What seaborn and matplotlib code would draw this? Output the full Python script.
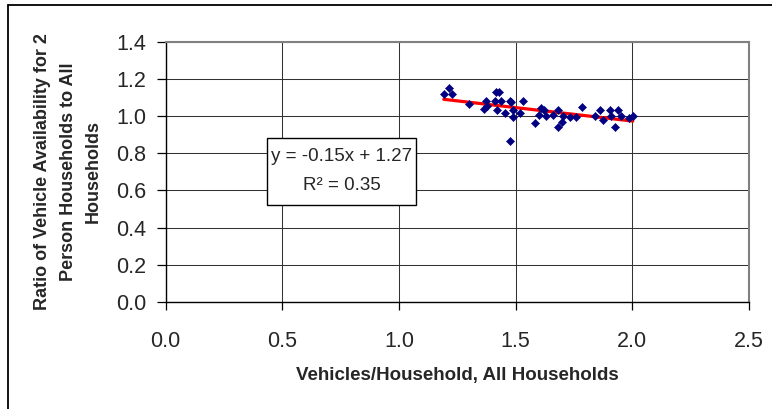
import numpy as np
import pandas as pd
import matplotlib
matplotlib.use("Agg")
import matplotlib.pyplot as plt
from matplotlib.lines import Line2D
from matplotlib.patches import Rectangle
import seaborn as sns

# ---- data ----
vehicles_per_household = [
    1.192, 1.214, 1.228, 1.302, 1.366, 1.371, 1.378, 1.415, 1.429, 1.413,
    1.437, 1.421, 1.455, 1.475, 1.478, 1.476, 1.488, 1.490, 1.518, 1.530,
    1.583, 1.600, 1.609, 1.622, 1.628, 1.662, 1.683, 1.683, 1.700, 1.703,
    1.731, 1.759, 1.786, 1.839, 1.862, 1.875, 1.903, 1.910, 1.925, 1.938,
    1.951, 1.985, 2.002,
]
ratio_2person = [
    1.118, 1.152, 1.118, 1.066, 1.039, 1.082, 1.054, 1.127, 1.127, 1.082,
    1.082, 1.032, 1.015, 1.082, 1.075, 0.868, 1.030, 0.996, 1.014, 1.082,
    0.961, 1.005, 1.041, 1.030, 0.998, 1.006, 1.032, 0.943, 0.970, 1.002,
    0.996, 0.994, 1.048, 0.997, 1.032, 0.978, 1.032, 1.002, 0.943, 1.032,
    1.000, 0.991, 1.000,
]
x_ticks = [0.0, 0.5, 1.0, 1.5, 2.0, 2.5]
y_ticks = [0.0, 0.2, 0.4, 0.6, 0.8, 1.0, 1.2, 1.4]
x_label = "Vehicles/Household, All Households"
y_label = "Ratio of Vehicle Availability for 2\nPerson Households to All\nHouseholds"
eq_text = "y = -0.15x + 1.27"
r2_text = "R² = 0.35"

df = pd.DataFrame({"x": vehicles_per_household, "y": ratio_2person})

sns.set_theme(style="white")
plt.rcParams["font.family"] = ["Liberation Sans", "DejaVu Sans"]

fig = plt.figure(figsize=(7.72, 4.09), dpi=100)
fig.patch.set_facecolor("white")
ax = fig.add_axes([0.2146, 0.2616, 0.9702 - 0.2146, 0.8985 - 0.2616])
ax.set_facecolor("white")

sns.regplot(data=df, x="x", y="y", ax=ax, scatter=False, ci=None,
            color="red", line_kws={"linewidth": 2.3, "zorder": 3})
sns.scatterplot(data=df, x="x", y="y", ax=ax, marker="D", s=17,
                color="#000080", edgecolor="#000080", linewidth=0.4, zorder=4)

ax.set_xlim(0, 2.5)
ax.set_ylim(0, 1.4)
ax.set_xticks(x_ticks)
ax.set_yticks(y_ticks)
ax.set_xticklabels([f"{v:.1f}" for v in x_ticks], fontsize=15.5)
ax.set_yticklabels([f"{v:.1f}" for v in y_ticks], fontsize=15.5)
ax.tick_params(axis="both", which="both", direction="out", width=0.9,
               color="black", bottom=True, left=True)
ax.tick_params(axis="x", length=6, pad=15)
ax.tick_params(axis="y", length=6.5, pad=7.5)

ax.grid(True, color="#333333", linewidth=0.75, zorder=0)
ax.set_axisbelow(True)
for side in ["left", "bottom"]:
    ax.spines[side].set_color("black")
    ax.spines[side].set_linewidth(1.0)
for side in ["top", "right"]:
    ax.spines[side].set_color("#808080")
    ax.spines[side].set_linewidth(1.5)

ax.set_xlabel(x_label, fontsize=13.5, fontweight="bold", labelpad=11)
ax.set_ylabel(y_label, fontsize=13, fontweight="bold", labelpad=10,
              linespacing=1.65)

# equation box
ax.add_patch(Rectangle((0.434, 0.520), 0.639, 0.362, facecolor="white",
                       edgecolor="black", linewidth=1.0, zorder=5))
ax.text(0.754, 0.782, eq_text, ha="center", va="center", fontsize=13.5, zorder=6)
ax.text(0.754, 0.627, r2_text, ha="center", va="center", fontsize=13.5, zorder=6)

# outer chart-area border (left and top edges visible)
fig.add_artist(Line2D([8 / 772, 8 / 772], [0, 1 - 5 / 409], color="black",
                      linewidth=1.3, transform=fig.transFigure))
fig.add_artist(Line2D([8 / 772, 1], [1 - 5 / 409, 1 - 5 / 409], color="black",
                      linewidth=1.3, transform=fig.transFigure))

fig.savefig("out.png", dpi=100)
